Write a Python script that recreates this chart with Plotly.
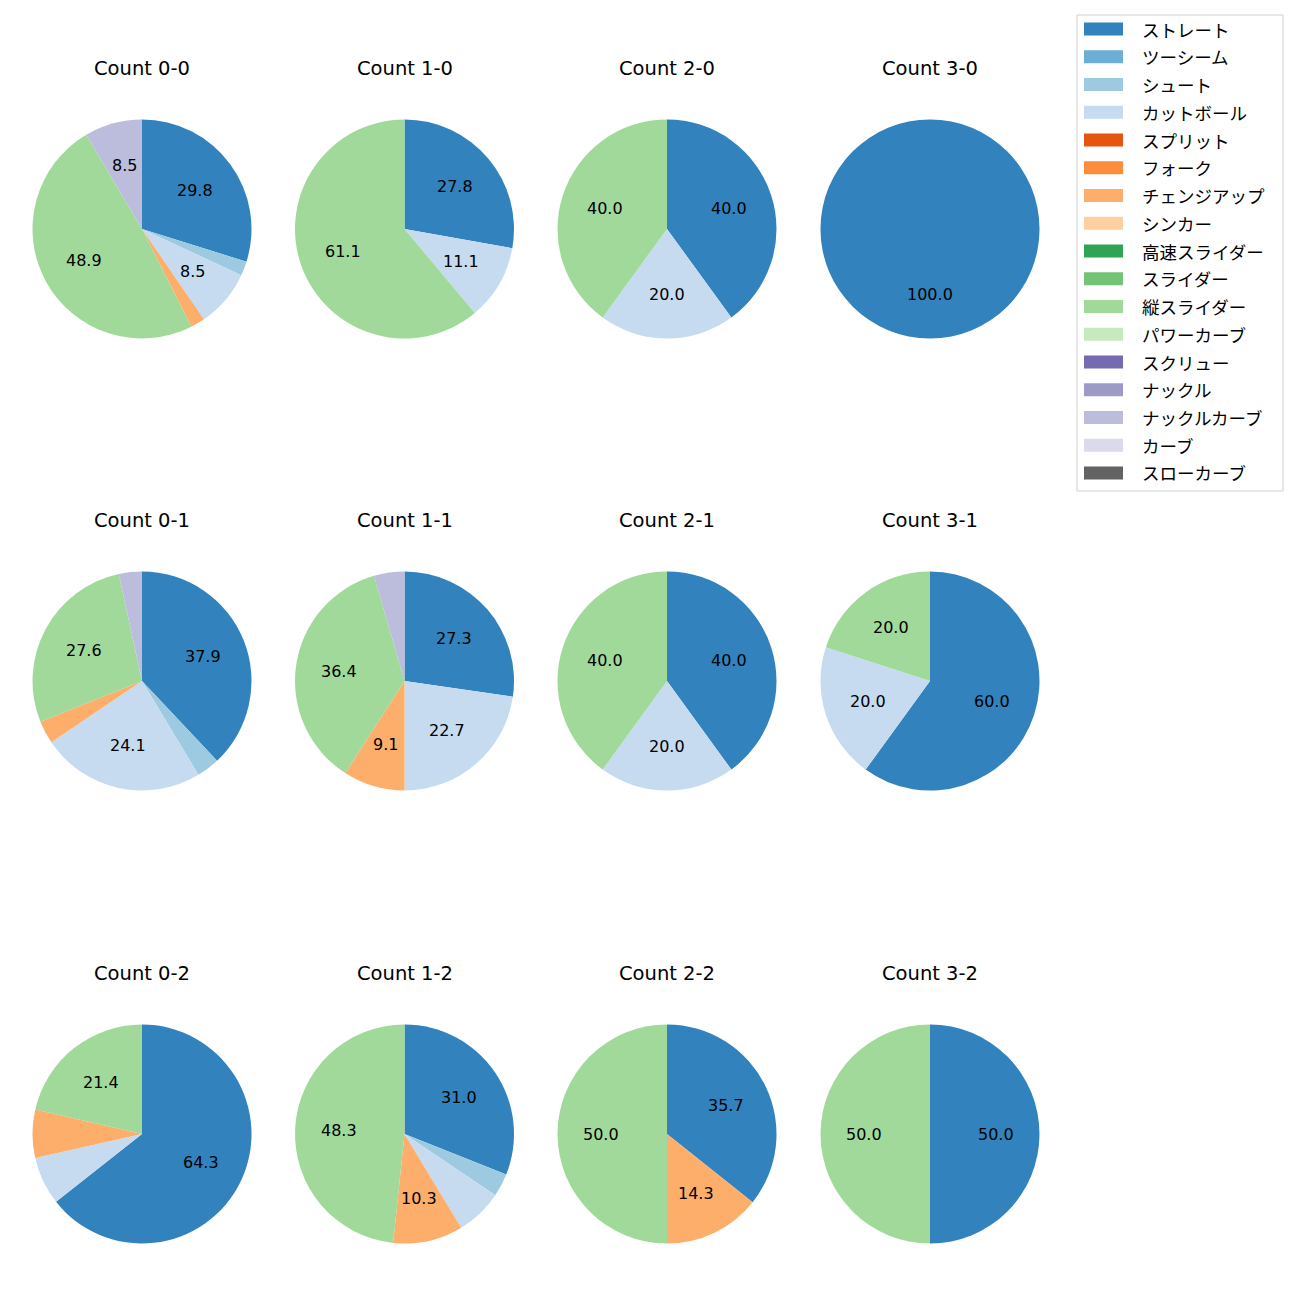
import math
import plotly.graph_objects as go

pitch_types = ["ストレート", "ツーシーム", "シュート", "カットボール", "スプリット", "フォーク",
               "チェンジアップ", "シンカー", "高速スライダー", "スライダー", "縦スライダー",
               "パワーカーブ", "スクリュー", "ナックル", "ナックルカーブ", "カーブ", "スローカーブ"]
pitch_colors = ["#3182bd", "#6baed6", "#9ecae1", "#c6dbef", "#e6550d", "#fd8d3c",
                "#fdae6b", "#fdd0a2", "#31a354", "#74c476", "#a1d99b", "#c7e9c0",
                "#756bb1", "#9e9ac8", "#bcbddc", "#dadaeb", "#636363"]

count_labels = ["0-0", "1-0", "2-0", "3-0",
                "0-1", "1-1", "2-1", "3-1",
                "0-2", "1-2", "2-2", "3-2"]

# percentages per count, in pitch_types order
pct_0_0 = [29.8, 0, 2.1, 8.5, 0, 0, 2.1, 0, 0, 0, 48.9, 0, 0, 0, 8.5, 0, 0]
pct_1_0 = [27.8, 0, 0, 11.1, 0, 0, 0, 0, 0, 0, 61.1, 0, 0, 0, 0, 0, 0]
pct_2_0 = [40.0, 0, 0, 20.0, 0, 0, 0, 0, 0, 0, 40.0, 0, 0, 0, 0, 0, 0]
pct_3_0 = [100.0, 0, 0, 0, 0, 0, 0, 0, 0, 0, 0, 0, 0, 0, 0, 0, 0]
pct_0_1 = [37.9, 0, 3.4, 24.1, 0, 0, 3.4, 0, 0, 0, 27.6, 0, 0, 0, 3.4, 0, 0]
pct_1_1 = [27.3, 0, 0, 22.7, 0, 0, 9.1, 0, 0, 0, 36.4, 0, 0, 0, 4.5, 0, 0]
pct_2_1 = [40.0, 0, 0, 20.0, 0, 0, 0, 0, 0, 0, 40.0, 0, 0, 0, 0, 0, 0]
pct_3_1 = [60.0, 0, 0, 20.0, 0, 0, 0, 0, 0, 0, 20.0, 0, 0, 0, 0, 0, 0]
pct_0_2 = [64.3, 0, 0, 7.1, 0, 0, 7.1, 0, 0, 0, 21.4, 0, 0, 0, 0, 0, 0]
pct_1_2 = [31.0, 0, 3.4, 6.9, 0, 0, 10.3, 0, 0, 0, 48.3, 0, 0, 0, 0, 0, 0]
pct_2_2 = [35.7, 0, 0, 0, 0, 0, 14.3, 0, 0, 0, 50.0, 0, 0, 0, 0, 0, 0]
pct_3_2 = [50.0, 0, 0, 0, 0, 0, 0, 0, 0, 0, 50.0, 0, 0, 0, 0, 0, 0]

all_pcts = [pct_0_0, pct_1_0, pct_2_0, pct_3_0,
            pct_0_1, pct_1_1, pct_2_1, pct_3_1,
            pct_0_2, pct_1_2, pct_2_2, pct_3_2]

# layout constants (pixels)
W = H = 1300
FONT_LATIN = "DejaVu Sans"
FONT_CJK = "Noto Sans CJK JP"
col_cx = [142, 404.5, 667, 930]
row_cy = [229, 681, 1134]
R = 109.5
LABEL_MIN = 8.0

fig = go.Figure()
annotations = []
for k, (cl, pcts) in enumerate(zip(count_labels, all_pcts)):
    r, c = divmod(k, 4)
    cx, cy = col_cx[c], row_cy[r]
    labs = [p for p, v in zip(pitch_types, pcts) if v > 0]
    vals = [v for v in pcts if v > 0]
    cols = [pitch_colors[i] for i, v in enumerate(pcts) if v > 0]
    fig.add_trace(go.Pie(
        labels=labs, values=vals, sort=False, direction="clockwise", rotation=0,
        marker=dict(colors=cols, line=dict(width=0)),
        textinfo="none", hoverinfo="label+percent", showlegend=False,
        domain=dict(x=[(cx - R) / W, (cx + R) / W], y=[1 - (cy + R) / H, 1 - (cy - R) / H]),
    ))
    annotations.append(dict(
        x=cx / W, y=1 - (cy - R - 51) / H, xref="paper", yref="paper",
        text=f"Count {cl}", showarrow=False, xanchor="center", yanchor="middle",
        font=dict(family=FONT_LATIN, size=19.5, color="#000000")))
    total = sum(vals)
    cum = 0.0
    for v in vals:
        mid = (cum + v / 2) / total
        ang = math.radians(90 - 360 * mid)
        cum += v
        if v / total * 100 < LABEL_MIN:
            continue
        tx = cx + 0.6 * R * math.cos(ang)
        ty = cy - 0.6 * R * math.sin(ang)
        annotations.append(dict(
            x=tx / W, y=1 - ty / H, xref="paper", yref="paper",
            text=f"{v:.1f}", showarrow=False, xanchor="center", yanchor="middle",
            font=dict(family=FONT_LATIN, size=16, color="#000000")))

# legend (drawn as a frame with swatches + text)
shapes = []
LX0, LY0, LX1 = 1077, 15, 1283
row_h = 27.75
first_y = 29
LY1 = first_y + row_h * (len(pitch_types) - 1) + 18
shapes.append(dict(type="rect", xref="paper", yref="paper",
                   x0=LX0 / W, x1=LX1 / W, y0=1 - LY0 / H, y1=1 - LY1 / H,
                   line=dict(color="#d0d0d0", width=1), fillcolor="rgba(255,255,255,0.8)"))
for i, (name, col) in enumerate(zip(pitch_types, pitch_colors)):
    yc = first_y + i * row_h
    shapes.append(dict(type="rect", xref="paper", yref="paper",
                       x0=1084 / W, x1=1123 / W, y0=1 - (yc - 6.5) / H, y1=1 - (yc + 6.5) / H,
                       line=dict(width=0), fillcolor=col))
    annotations.append(dict(
        x=1140 / W, y=1 - yc / H, xref="paper", yref="paper", text=name,
        showarrow=False, xanchor="left", yanchor="middle",
        font=dict(family=FONT_CJK, size=17.5, color="#000000")))

fig.update_layout(
    width=W, height=H, margin=dict(l=0, r=0, t=0, b=0),
    paper_bgcolor="white", plot_bgcolor="white",
    annotations=annotations, shapes=shapes, showlegend=False,
    font=dict(family=FONT_LATIN),
)
fig.write_html("out.html")
